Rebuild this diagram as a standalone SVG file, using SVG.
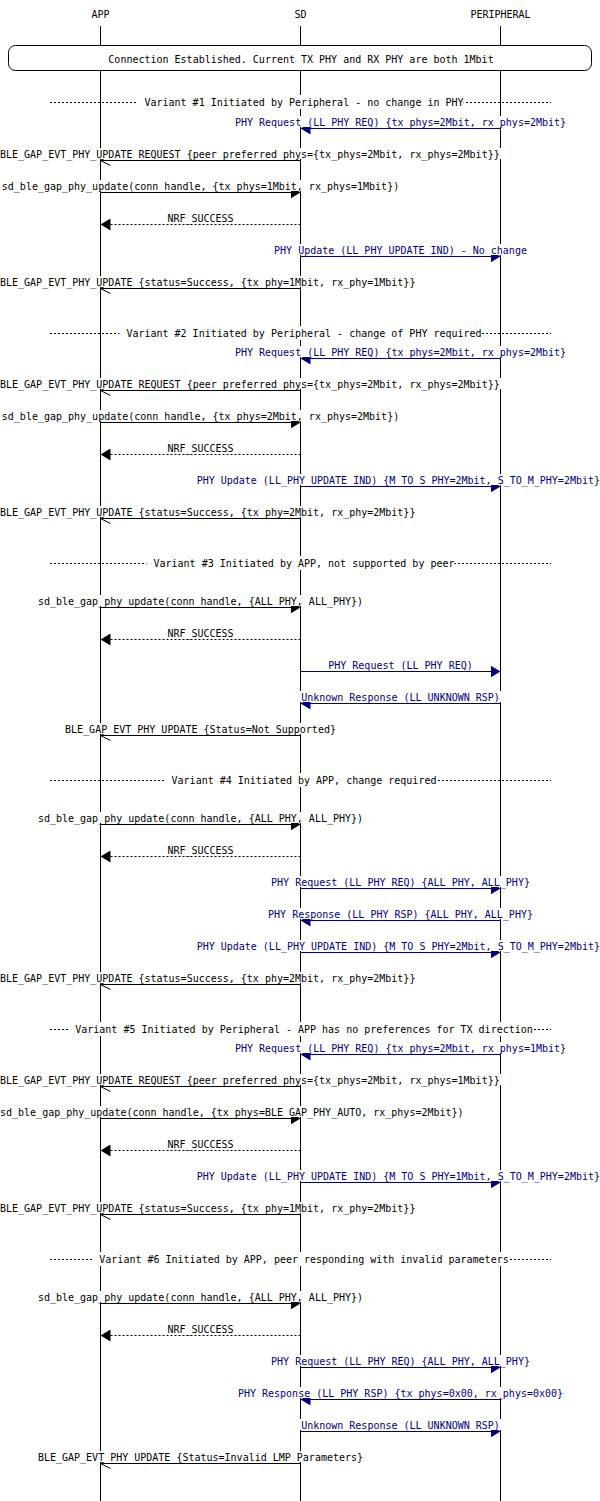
<svg xmlns="http://www.w3.org/2000/svg" width="600" height="1501" viewBox="0 0 600 1501">
<style>
.ll{stroke:#000;stroke-width:1}
.a{stroke:#000;stroke-width:1;fill:none}
.n{stroke:#000080;stroke-width:1;fill:none}
.d{stroke-dasharray:2,2}
.bg{fill:#fff}
text{font-family:"DejaVu Sans Mono","Liberation Mono",monospace;font-size:10px;fill:#000}
.c{text-anchor:middle}
.e{text-anchor:end}
.tb{fill:#000080}
</style>
<defs>
<marker id="hf" viewBox="0 0 10 12" refX="10" refY="6" markerWidth="10" markerHeight="12" markerUnits="userSpaceOnUse" orient="auto"><path d="M0,0L10,6L0,12z" fill="#000"/></marker>
<marker id="hn" viewBox="0 0 10 12" refX="10" refY="6" markerWidth="10" markerHeight="12" markerUnits="userSpaceOnUse" orient="auto"><path d="M0,0L10,6L0,12z" fill="#000080"/></marker>
<marker id="ho" viewBox="0 0 10 12" refX="10" refY="6" markerWidth="10" markerHeight="12" markerUnits="userSpaceOnUse" orient="auto" overflow="visible"><path d="M0,1L10,6L0,11" fill="none" stroke="#000" stroke-width="1"/></marker>
</defs>
<rect width="600" height="1501" fill="#fff"/>
<g id="APP"><text class="c" x="100.5" y="17.5">APP</text><line class="ll" x1="100.5" y1="26" x2="100.5" y2="1501"/></g>
<g id="SD"><text class="c" x="300.5" y="17.5">SD</text><line class="ll" x1="300.5" y1="26" x2="300.5" y2="1501"/></g>
<g id="PERIPHERAL"><text class="c" x="500.5" y="17.5">PERIPHERAL</text><line class="ll" x1="500.5" y1="26" x2="500.5" y2="1501"/></g>
<g id="box-connection"><rect x="8.5" y="45.5" width="583" height="25" rx="7" ry="7" fill="#fff" stroke="#000"/><text class="c" x="301" y="63">Connection Established. Current TX PHY and RX PHY are both 1Mbit</text></g>
<g id="separators">
<g id="v1"><line class="a d" x1="50" y1="102.5" x2="551" y2="102.5"/><rect class="bg" x="137.5" y="95" width="326" height="14"/><text class="c" x="304" y="106">Variant #1 Initiated by Peripheral - no change in PHY</text></g>
<g id="v2"><line class="a d" x1="50" y1="333.5" x2="551" y2="333.5"/><rect class="bg" x="119.4" y="326" width="362" height="14"/><text class="c" x="304" y="337">Variant #2 Initiated by Peripheral - change of PHY required</text></g>
<g id="v3"><line class="a d" x1="50" y1="563.5" x2="551" y2="563.5"/><rect class="bg" x="146.5" y="556" width="308" height="14"/><text class="c" x="304" y="567">Variant #3 Initiated by APP, not supported by peer</text></g>
<g id="v4"><line class="a d" x1="50" y1="780.5" x2="551" y2="780.5"/><rect class="bg" x="164.6" y="773" width="272" height="14"/><text class="c" x="304" y="784">Variant #4 Initiated by APP, change required</text></g>
<g id="v5"><line class="a d" x1="50" y1="1029.5" x2="551" y2="1029.5"/><rect class="bg" x="68.3" y="1022" width="465" height="14"/><text class="c" x="304" y="1033">Variant #5 Initiated by Peripheral - APP has no preferences for TX direction</text></g>
<g id="v6"><line class="a d" x1="50" y1="1259.5" x2="551" y2="1259.5"/><rect class="bg" x="92.3" y="1252" width="416" height="14"/><text class="c" x="304" y="1263">Variant #6 Initiated by APP, peer responding with invalid parameters</text></g>
</g>
<g id="connectors">
<!-- Variant 1 -->
<g><line class="n" x1="500.5" y1="128.5" x2="300.5" y2="128.5" marker-end="url(#hn)"/><rect class="bg" x="234" y="116" width="333" height="11"/><text class="c tb" x="400.5" y="126">PHY Request (LL_PHY_REQ) {tx_phys=2Mbit, rx_phys=2Mbit}</text></g>
<g><line class="a" x1="300.5" y1="160.5" x2="100.5" y2="160.5" marker-end="url(#ho)"/><rect class="bg" x="0" y="148" width="501" height="11"/><text x="0" y="158">BLE_GAP_EVT_PHY_UPDATE_REQUEST {peer_preferred_phys={tx_phys=2Mbit, rx_phys=2Mbit}}</text></g>
<g><line class="a" x1="100.5" y1="192.5" x2="300.5" y2="192.5" marker-end="url(#hf)"/><rect class="bg" x="1" y="180" width="399" height="11"/><text class="c" x="200.5" y="190">sd_ble_gap_phy_update(conn_handle, {tx_phys=1Mbit, rx_phys=1Mbit})</text></g>
<g><line class="a d" x1="300.5" y1="224.5" x2="100.5" y2="224.5" marker-end="url(#hf)"/><rect class="bg" x="166" y="212" width="69" height="11"/><text class="c" x="200.5" y="222">NRF_SUCCESS</text></g>
<g><line class="n" x1="300.5" y1="256.5" x2="500.5" y2="256.5" marker-end="url(#hn)"/><rect class="bg" x="273" y="244" width="255" height="11"/><text class="c tb" x="400.5" y="254">PHY Update (LL_PHY_UPDATE_IND) - No change</text></g>
<g><line class="a" x1="300.5" y1="288.5" x2="100.5" y2="288.5" marker-end="url(#ho)"/><rect class="bg" x="0" y="276" width="417" height="11"/><text x="0" y="286">BLE_GAP_EVT_PHY_UPDATE {status=Success, {tx_phy=1Mbit, rx_phy=1Mbit}}</text></g>
<!-- Variant 2 -->
<g><line class="n" x1="500.5" y1="358.5" x2="300.5" y2="358.5" marker-end="url(#hn)"/><rect class="bg" x="234" y="346" width="333" height="11"/><text class="c tb" x="400.5" y="356">PHY Request (LL_PHY_REQ) {tx_phys=2Mbit, rx_phys=2Mbit}</text></g>
<g><line class="a" x1="300.5" y1="390.5" x2="100.5" y2="390.5" marker-end="url(#ho)"/><rect class="bg" x="0" y="378" width="501" height="11"/><text x="0" y="388">BLE_GAP_EVT_PHY_UPDATE_REQUEST {peer_preferred_phys={tx_phys=2Mbit, rx_phys=2Mbit}}</text></g>
<g><line class="a" x1="100.5" y1="422.5" x2="300.5" y2="422.5" marker-end="url(#hf)"/><rect class="bg" x="1" y="410" width="399" height="11"/><text class="c" x="200.5" y="420">sd_ble_gap_phy_update(conn_handle, {tx_phys=2Mbit, rx_phys=2Mbit})</text></g>
<g><line class="a d" x1="300.5" y1="454.5" x2="100.5" y2="454.5" marker-end="url(#hf)"/><rect class="bg" x="166" y="442" width="69" height="11"/><text class="c" x="200.5" y="452">NRF_SUCCESS</text></g>
<g><line class="n" x1="300.5" y1="486.5" x2="500.5" y2="486.5" marker-end="url(#hn)"/><rect class="bg" x="196" y="474" width="404" height="11"/><text class="e tb" x="600" y="484">PHY Update (LL_PHY_UPDATE_IND) {M_TO_S_PHY=2Mbit, S_TO_M_PHY=2Mbit}</text></g>
<g><line class="a" x1="300.5" y1="518.5" x2="100.5" y2="518.5" marker-end="url(#ho)"/><rect class="bg" x="0" y="506" width="417" height="11"/><text x="0" y="516">BLE_GAP_EVT_PHY_UPDATE {status=Success, {tx_phy=2Mbit, rx_phy=2Mbit}}</text></g>
<!-- Variant 3 -->
<g><line class="a" x1="100.5" y1="607.5" x2="300.5" y2="607.5" marker-end="url(#hf)"/><rect class="bg" x="37" y="595" width="327" height="11"/><text class="c" x="200.5" y="605">sd_ble_gap_phy_update(conn_handle, {ALL_PHY, ALL_PHY})</text></g>
<g><line class="a d" x1="300.5" y1="639.5" x2="100.5" y2="639.5" marker-end="url(#hf)"/><rect class="bg" x="166" y="627" width="69" height="11"/><text class="c" x="200.5" y="637">NRF_SUCCESS</text></g>
<g><line class="n" x1="300.5" y1="671.5" x2="500.5" y2="671.5" marker-end="url(#hn)"/><rect class="bg" x="327" y="659" width="147" height="11"/><text class="c tb" x="400.5" y="669">PHY Request (LL_PHY_REQ)</text></g>
<g><line class="n" x1="500.5" y1="703.5" x2="300.5" y2="703.5" marker-end="url(#hn)"/><rect class="bg" x="300" y="691" width="201" height="11"/><text class="c tb" x="400.5" y="701">Unknown Response (LL_UNKNOWN_RSP)</text></g>
<g><line class="a" x1="300.5" y1="735.5" x2="100.5" y2="735.5" marker-end="url(#ho)"/><rect class="bg" x="64" y="723" width="273" height="11"/><text class="c" x="200.5" y="733">BLE_GAP_EVT_PHY_UPDATE {Status=Not Supported}</text></g>
<!-- Variant 4 -->
<g><line class="a" x1="100.5" y1="824.5" x2="300.5" y2="824.5" marker-end="url(#hf)"/><rect class="bg" x="37" y="812" width="327" height="11"/><text class="c" x="200.5" y="822">sd_ble_gap_phy_update(conn_handle, {ALL_PHY, ALL_PHY})</text></g>
<g><line class="a d" x1="300.5" y1="856.5" x2="100.5" y2="856.5" marker-end="url(#hf)"/><rect class="bg" x="166" y="844" width="69" height="11"/><text class="c" x="200.5" y="854">NRF_SUCCESS</text></g>
<g><line class="n" x1="300.5" y1="888.5" x2="500.5" y2="888.5" marker-end="url(#hn)"/><rect class="bg" x="270" y="876" width="261" height="11"/><text class="c tb" x="400.5" y="886">PHY Request (LL_PHY_REQ) {ALL_PHY, ALL_PHY}</text></g>
<g><line class="n" x1="500.5" y1="920.5" x2="300.5" y2="920.5" marker-end="url(#hn)"/><rect class="bg" x="267" y="908" width="267" height="11"/><text class="c tb" x="400.5" y="918">PHY Response (LL_PHY_RSP) {ALL_PHY, ALL_PHY}</text></g>
<g><line class="n" x1="300.5" y1="952.5" x2="500.5" y2="952.5" marker-end="url(#hn)"/><rect class="bg" x="196" y="940" width="404" height="11"/><text class="e tb" x="600" y="950">PHY Update (LL_PHY_UPDATE_IND) {M_TO_S_PHY=2Mbit, S_TO_M_PHY=2Mbit}</text></g>
<g><line class="a" x1="300.5" y1="984.5" x2="100.5" y2="984.5" marker-end="url(#ho)"/><rect class="bg" x="0" y="972" width="417" height="11"/><text x="0" y="982">BLE_GAP_EVT_PHY_UPDATE {status=Success, {tx_phy=2Mbit, rx_phy=2Mbit}}</text></g>
<!-- Variant 5 -->
<g><line class="n" x1="500.5" y1="1054.5" x2="300.5" y2="1054.5" marker-end="url(#hn)"/><rect class="bg" x="234" y="1042" width="333" height="11"/><text class="c tb" x="400.5" y="1052">PHY Request (LL_PHY_REQ) {tx_phys=2Mbit, rx_phys=1Mbit}</text></g>
<g><line class="a" x1="300.5" y1="1086.5" x2="100.5" y2="1086.5" marker-end="url(#ho)"/><rect class="bg" x="0" y="1074" width="501" height="11"/><text x="0" y="1084">BLE_GAP_EVT_PHY_UPDATE_REQUEST {peer_preferred_phys={tx_phys=2Mbit, rx_phys=1Mbit}}</text></g>
<g><line class="a" x1="100.5" y1="1118.5" x2="300.5" y2="1118.5" marker-end="url(#hf)"/><rect class="bg" x="0" y="1106" width="465" height="11"/><text x="0" y="1116">sd_ble_gap_phy_update(conn_handle, {tx_phys=BLE_GAP_PHY_AUTO, rx_phys=2Mbit})</text></g>
<g><line class="a d" x1="300.5" y1="1150.5" x2="100.5" y2="1150.5" marker-end="url(#hf)"/><rect class="bg" x="166" y="1138" width="69" height="11"/><text class="c" x="200.5" y="1148">NRF_SUCCESS</text></g>
<g><line class="n" x1="300.5" y1="1182.5" x2="500.5" y2="1182.5" marker-end="url(#hn)"/><rect class="bg" x="196" y="1170" width="404" height="11"/><text class="e tb" x="600" y="1180">PHY Update (LL_PHY_UPDATE_IND) {M_TO_S_PHY=1Mbit, S_TO_M_PHY=2Mbit}</text></g>
<g><line class="a" x1="300.5" y1="1214.5" x2="100.5" y2="1214.5" marker-end="url(#ho)"/><rect class="bg" x="0" y="1202" width="417" height="11"/><text x="0" y="1212">BLE_GAP_EVT_PHY_UPDATE {status=Success, {tx_phy=1Mbit, rx_phy=2Mbit}}</text></g>
<!-- Variant 6 -->
<g><line class="a" x1="100.5" y1="1303.5" x2="300.5" y2="1303.5" marker-end="url(#hf)"/><rect class="bg" x="37" y="1291" width="327" height="11"/><text class="c" x="200.5" y="1301">sd_ble_gap_phy_update(conn_handle, {ALL_PHY, ALL_PHY})</text></g>
<g><line class="a d" x1="300.5" y1="1335.5" x2="100.5" y2="1335.5" marker-end="url(#hf)"/><rect class="bg" x="166" y="1323" width="69" height="11"/><text class="c" x="200.5" y="1333">NRF_SUCCESS</text></g>
<g><line class="n" x1="300.5" y1="1367.5" x2="500.5" y2="1367.5" marker-end="url(#hn)"/><rect class="bg" x="270" y="1355" width="261" height="11"/><text class="c tb" x="400.5" y="1365">PHY Request (LL_PHY_REQ) {ALL_PHY, ALL_PHY}</text></g>
<g><line class="n" x1="500.5" y1="1399.5" x2="300.5" y2="1399.5" marker-end="url(#hn)"/><rect class="bg" x="237" y="1387" width="327" height="11"/><text class="c tb" x="400.5" y="1397">PHY Response (LL_PHY_RSP) {tx_phys=0x00, rx_phys=0x00}</text></g>
<g><line class="n" x1="300.5" y1="1431.5" x2="500.5" y2="1431.5" marker-end="url(#hn)"/><rect class="bg" x="300" y="1419" width="201" height="11"/><text class="c tb" x="400.5" y="1429">Unknown Response (LL_UNKNOWN_RSP)</text></g>
<g><line class="a" x1="300.5" y1="1463.5" x2="100.5" y2="1463.5" marker-end="url(#ho)"/><rect class="bg" x="37" y="1451" width="327" height="11"/><text class="c" x="200.5" y="1461">BLE_GAP_EVT_PHY_UPDATE {Status=Invalid LMP Parameters}</text></g>
</g>
</svg>
